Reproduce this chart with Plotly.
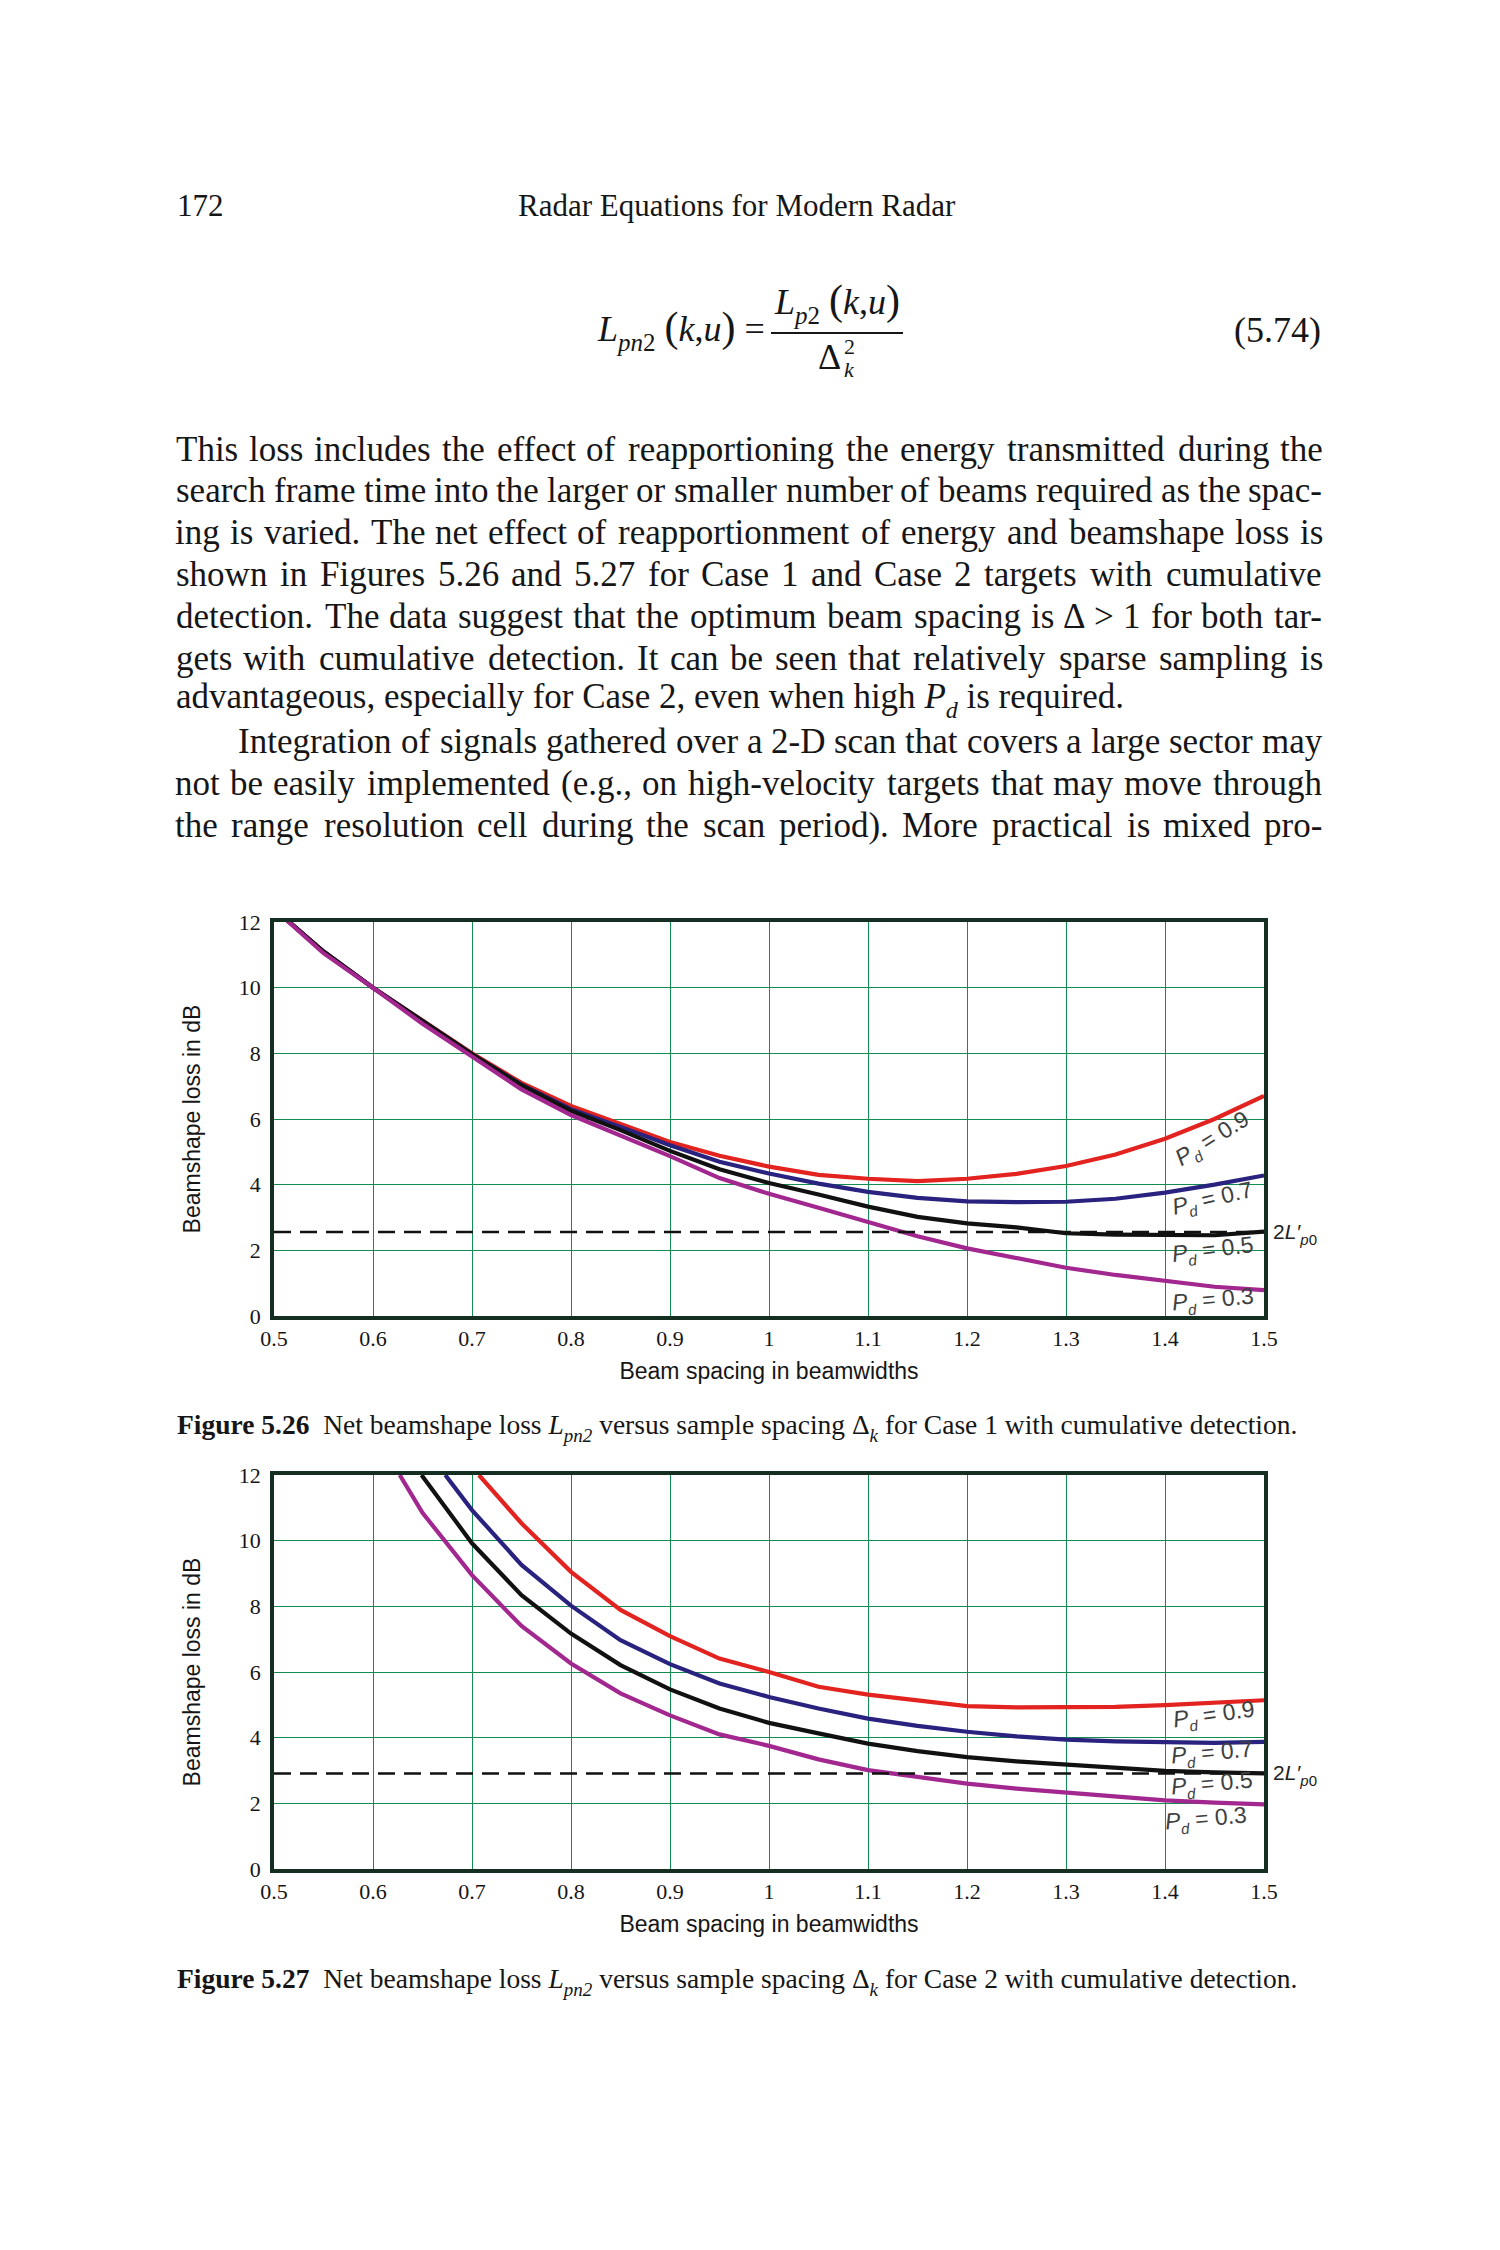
import plotly.graph_objects as go

W, H = 1500, 2250

# ---------------- data ----------------
x_case1 = [0.50, 0.55, 0.60, 0.65, 0.70, 0.75, 0.80, 0.85, 0.90, 0.95, 1.00,
           1.05, 1.10, 1.15, 1.20, 1.25, 1.30, 1.35, 1.40, 1.45, 1.50]
case1_pd09 = [12.4, 11.1, 10.0, 9.0, 8.0, 7.1, 6.4, 5.85, 5.3, 4.88, 4.55,
              4.3, 4.18, 4.11, 4.18, 4.33, 4.57, 4.92, 5.4, 6.0, 6.7]
case1_pd07 = [12.4, 11.1, 10.0, 9.0, 7.97, 7.05, 6.3, 5.76, 5.2, 4.7, 4.34,
              4.03, 3.78, 3.6, 3.49, 3.47, 3.48, 3.57, 3.76, 4.0, 4.28]
case1_pd05 = [12.4, 11.1, 10.0, 9.0, 7.97, 7.03, 6.25, 5.66, 5.03, 4.47, 4.05,
              3.7, 3.33, 3.02, 2.82, 2.7, 2.52, 2.48, 2.46, 2.46, 2.57]
case1_pd03 = [12.4, 11.05, 10.0, 8.9, 7.9, 6.9, 6.12, 5.5, 4.87, 4.2, 3.72,
              3.3, 2.87, 2.43, 2.06, 1.75, 1.47, 1.25, 1.06, 0.89, 0.79]
case1_ref = 2.56

x_case2_pd09 = [0.707, 0.75, 0.80, 0.85, 0.90, 0.95, 1.00, 1.05, 1.10, 1.15,
                1.20, 1.25, 1.30, 1.35, 1.40, 1.45, 1.50]
case2_pd09 = [12.0, 10.53, 9.05, 7.89, 7.09, 6.41, 6.0, 5.55, 5.31, 5.12,
              4.96, 4.92, 4.92, 4.94, 4.99, 5.06, 5.14]
x_case2_pd07 = [0.673, 0.70, 0.75, 0.80, 0.85, 0.90, 0.95, 1.00, 1.05, 1.10,
                1.15, 1.20, 1.25, 1.30, 1.35, 1.40, 1.45, 1.50]
case2_pd07 = [12.0, 10.93, 9.26, 8.02, 6.97, 6.24, 5.65, 5.24, 4.89, 4.58,
              4.36, 4.18, 4.04, 3.94, 3.89, 3.87, 3.84, 3.87]
x_case2_pd05 = [0.649, 0.70, 0.75, 0.80, 0.85, 0.90, 0.95, 1.00, 1.05, 1.10,
                1.15, 1.20, 1.25, 1.30, 1.35, 1.40, 1.45, 1.50]
case2_pd05 = [12.0, 9.92, 8.34, 7.17, 6.21, 5.47, 4.89, 4.45, 4.13, 3.82,
              3.59, 3.41, 3.28, 3.18, 3.08, 2.99, 2.94, 2.91]
x_case2_pd03 = [0.627, 0.65, 0.70, 0.75, 0.80, 0.85, 0.90, 0.95, 1.00, 1.05,
                1.10, 1.15, 1.20, 1.25, 1.30, 1.35, 1.40, 1.45, 1.50]
case2_pd03 = [12.0, 10.85, 8.95, 7.4, 6.26, 5.35, 4.68, 4.1, 3.75, 3.34,
              3.01, 2.8, 2.6, 2.45, 2.33, 2.22, 2.09, 2.02, 1.97]
case2_ref = 2.91

pd_values = ["0.9", "0.7", "0.5", "0.3"]
x_ticks = [0.5, 0.6, 0.7, 0.8, 0.9, 1.0, 1.1, 1.2, 1.3, 1.4, 1.5]
x_ticktext = ["0.5", "0.6", "0.7", "0.8", "0.9", "1", "1.1", "1.2", "1.3", "1.4", "1.5"]
y_ticks = [0, 2, 4, 6, 8, 10, 12]
x_title = "Beam spacing in beamwidths"
y_title = "Beamshape loss in dB"

# ---------------- styles ----------------
SERIF = "Liberation Serif, Times New Roman, serif"
SANS = "Liberation Sans, Arial, sans-serif"
COLORS = ["#e2231f", "#29237f", "#111111", "#a2278e"]
GRID = "#138c52"
FRAME = "#142f21"
TXT = "#161616"
LBL = "#404040"

def px(x):
    return x / W

def py(y):
    return 1 - y / H

def sub(s, size, shift):
    # subscript drawn as a smaller, lowered span
    return "<span style='font-size:%gpx;baseline-shift:-%gpx'>%s</span>" % (size, shift, s)

fig = go.Figure()

for ys, c, name in zip([case1_pd09, case1_pd07, case1_pd05, case1_pd03], COLORS, pd_values):
    fig.add_trace(go.Scatter(x=x_case1, y=ys, mode="lines", name="Pd = " + name,
                             line=dict(color=c, width=4.2), xaxis="x", yaxis="y",
                             showlegend=False, hoverinfo="skip"))
fig.add_trace(go.Scatter(x=[x_ticks[0], x_ticks[-1]], y=[case1_ref, case1_ref], mode="lines",
                         line=dict(color="#111111", width=2.6, dash="17px,9px"),
                         xaxis="x", yaxis="y", showlegend=False, hoverinfo="skip"))

for xs, ys, c, name in zip([x_case2_pd09, x_case2_pd07, x_case2_pd05, x_case2_pd03],
                           [case2_pd09, case2_pd07, case2_pd05, case2_pd03], COLORS, pd_values):
    fig.add_trace(go.Scatter(x=xs, y=ys, mode="lines", name="Pd = " + name,
                             line=dict(color=c, width=4.2), xaxis="x2", yaxis="y2",
                             showlegend=False, hoverinfo="skip"))
fig.add_trace(go.Scatter(x=[x_ticks[0], x_ticks[-1]], y=[case2_ref, case2_ref], mode="lines",
                         line=dict(color="#111111", width=2.6, dash="17px,9px"),
                         xaxis="x2", yaxis="y2", showlegend=False, hoverinfo="skip"))

xdom = [px(274), px(1264)]
y1dom = [py(1316), py(922)]
y2dom = [py(1869), py(1475)]

def xaxis_cfg(anchor):
    return dict(domain=xdom, anchor=anchor, range=[0.5, 1.5], tickvals=x_ticks,
                ticktext=x_ticktext, showgrid=True, gridcolor=GRID, gridwidth=1.3,
                zeroline=False, showline=True, linecolor=FRAME, linewidth=3.5, mirror=True,
                automargin=False,
                ticks="", tickfont=dict(family=SERIF, size=22, color=TXT),
                title=dict(text=x_title, font=dict(family=SANS, size=23, color=TXT), standoff=14))

def yaxis_cfg(anchor, dom):
    return dict(domain=dom, anchor=anchor, range=[0, 12], tickvals=y_ticks,
                showgrid=True, gridcolor=GRID, gridwidth=1.3, zeroline=False,
                showline=True, linecolor=FRAME, linewidth=3.5, mirror=True, ticks="",
                automargin=False, ticklabelstandoff=5,
                tickfont=dict(family=SERIF, size=22, color=TXT),
                title=dict(text=y_title, font=dict(family=SANS, size=23, color=TXT), standoff=33))

annotations = []
shapes = []

# ----- curve labels -----
PD_TXT = "<i>P</i>" + sub("<i>d</i>", 15, 6) + " = "
lab1_pos = [(1.448, 5.36, -32), (1.448, 3.52, -13), (1.448, 1.98, -7), (1.448, 0.47, -5)]
lab2_pos = [(1.449, 4.66, -8), (1.447, 3.5, -5), (1.447, 2.55, -5), (1.441, 1.5, -5)]
for (lx, ly, ang), v in zip(lab1_pos, pd_values):
    annotations.append(dict(x=lx, y=ly, xref="x", yref="y", showarrow=False, textangle=ang,
                            text=PD_TXT + v, font=dict(family=SANS, size=23, color=LBL)))
for (lx, ly, ang), v in zip(lab2_pos, pd_values):
    annotations.append(dict(x=lx, y=ly, xref="x2", yref="y2", showarrow=False, textangle=ang,
                            text=PD_TXT + v, font=dict(family=SANS, size=23, color=LBL)))
for xr, yr, ref in [("x", "y", case1_ref), ("x2", "y2", case2_ref)]:
    annotations.append(dict(x=1.5, y=ref, xref=xr, yref=yr, xanchor="left", xshift=7, yshift=-2,
                            showarrow=False, text="2<i>L′</i>" + sub("<i>p</i>0", 15, 6),
                            font=dict(family=SANS, size=21, color="#222222")))

# ----- page text -----
TW = {' ': 250, '!': 333, '(': 333, ')': 333, ',': 250, '-': 333, '.': 250, '/': 278,
      ':': 278, ';': 278, '>': 564, '=': 564, '?': 444, 'Δ': 612,
      'A': 722, 'B': 667, 'C': 667, 'D': 722, 'E': 611, 'F': 556, 'G': 722, 'H': 722,
      'I': 333, 'J': 389, 'K': 722, 'L': 611, 'M': 889, 'N': 722, 'O': 722, 'P': 556,
      'Q': 722, 'R': 667, 'S': 556, 'T': 611, 'U': 722, 'V': 722, 'W': 944, 'X': 722,
      'Y': 722, 'Z': 611,
      'a': 444, 'b': 500, 'c': 444, 'd': 500, 'e': 444, 'f': 333, 'g': 500, 'h': 500,
      'i': 278, 'j': 278, 'k': 500, 'l': 278, 'm': 778, 'n': 500, 'o': 500, 'p': 500,
      'q': 500, 'r': 333, 's': 389, 't': 278, 'u': 500, 'v': 500, 'w': 722, 'x': 500,
      'y': 500, 'z': 444}

def tw(s, size):
    return sum(TW.get(c, 500) for c in s) * size / 1000.0 * 1.02

BODY = 35
LEFT, RIGHT = 175, 1323
Y0, DY = 449, 41.8
body_lines = [
    ("This loss includes the effect of reapportioning the energy transmitted during the", LEFT, True),
    ("search frame time into the larger or smaller number of beams required as the spac-", LEFT, True),
    ("ing is varied. The net effect of reapportionment of energy and beamshape loss is", LEFT, True),
    ("shown in Figures 5.26 and 5.27 for Case 1 and Case 2 targets with cumulative", LEFT, True),
    ("detection. The data suggest that the optimum beam spacing is Δ > 1 for both tar-", LEFT, True),
    ("gets with cumulative detection. It can be seen that relatively sparse sampling is", LEFT, True),
    ("advantageous, especially for Case 2, even when high <i>P</i>" + sub("<i>d</i>", 24, 10)
     + " is required.", LEFT, False),
    ("Integration of signals gathered over a 2-D scan that covers a large sector may", LEFT + 62, True),
    ("not be easily implemented (e.g., on high-velocity targets that may move through", LEFT, True),
    ("the range resolution cell during the scan period). More practical is mixed pro-", LEFT, True),
]

for k, (text, x0, just) in enumerate(body_lines):
    yy = Y0 + k * DY
    if not just:
        annotations.append(dict(x=px(x0), y=py(yy), xref="paper", yref="paper", xanchor="left",
                                yanchor="middle", showarrow=False, text=text, borderpad=0,
                                font=dict(family=SERIF, size=BODY, color=TXT)))
        continue
    words = text.split(" ")
    widths = [tw(w, BODY) for w in words]
    gap = (RIGHT - x0 - sum(widths)) / (len(words) - 1)
    cur = x0
    for wd, wdw in zip(words, widths):
        annotations.append(dict(x=px(cur + wdw / 2), y=py(yy), xref="paper", yref="paper",
                                xanchor="center", yanchor="middle", showarrow=False,
                                text=wd, borderpad=0,
                                font=dict(family=SERIF, size=BODY, color=TXT)))
        cur += wdw + gap

# header
annotations.append(dict(x=px(LEFT), y=py(205), xref="paper", yref="paper", xanchor="left",
                        yanchor="middle", showarrow=False, text="172",
                        font=dict(family=SERIF, size=31, color=TXT)))
annotations.append(dict(x=px(737), y=py(205), xref="paper", yref="paper", xanchor="center",
                        yanchor="middle", showarrow=False, text="Radar Equations for Modern Radar",
                        font=dict(family=SERIF, size=31, color=TXT)))

# equation (5.74)
EQ = 36
PAR = "<span style='font-size:42px'>{}</span>"
annotations.append(dict(x=px(595), y=py(330), xref="paper", yref="paper", xanchor="left",
                        yanchor="middle", showarrow=False,
                        text="<i>L</i>" + sub("<i>pn</i>2", 25, 10) + " " + PAR.format("(")
                             + "<i>k</i>,<i>u</i>" + PAR.format(")") + " =",
                        font=dict(family=SERIF, size=EQ, color=TXT)))
annotations.append(dict(x=px(837), y=py(303), xref="paper", yref="paper", xanchor="center",
                        yanchor="middle", showarrow=False,
                        text="<i>L</i>" + sub("<i>p</i>2", 25, 10) + " " + PAR.format("(")
                             + "<i>k</i>,<i>u</i>" + PAR.format(")"),
                        font=dict(family=SERIF, size=EQ, color=TXT)))
shapes.append(dict(type="line", xref="paper", yref="paper", x0=px(771), x1=px(903),
                   y0=py(333), y1=py(333), line=dict(color=TXT, width=2)))
annotations.append(dict(x=px(829), y=py(357), xref="paper", yref="paper", xanchor="center",
                        yanchor="middle", showarrow=False, text="Δ",
                        font=dict(family=SERIF, size=EQ, color=TXT)))
annotations.append(dict(x=px(842), y=py(346), xref="paper", yref="paper", xanchor="left",
                        yanchor="middle", showarrow=False, text="2",
                        font=dict(family=SERIF, size=22, color=TXT)))
annotations.append(dict(x=px(842), y=py(370), xref="paper", yref="paper", xanchor="left",
                        yanchor="middle", showarrow=False, text="<i>k</i>",
                        font=dict(family=SERIF, size=22, color=TXT)))
annotations.append(dict(x=px(RIGHT), y=py(330), xref="paper", yref="paper", xanchor="right",
                        yanchor="middle", showarrow=False, text="(5.74)",
                        font=dict(family=SERIF, size=EQ, color=TXT)))

# captions
CAP = 27.5
cap_tail = (" Net beamshape loss <i>L</i>" + sub("<i>pn2</i>", 19, 8)
            + " versus sample spacing Δ" + sub("<i>k</i>", 19, 8) + " for Case {} with cumulative detection.")
captions = [
    ("<b>Figure 5.26</b>\u00a0" + cap_tail.format(1), 1427),
    ("<b>Figure 5.27</b>\u00a0" + cap_tail.format(2), 1981),
]
for t, yy in captions:
    annotations.append(dict(x=px(LEFT), y=py(yy), xref="paper", yref="paper", xanchor="left",
                            yanchor="middle", showarrow=False, text=t,
                            font=dict(family=SERIF, size=CAP, color=TXT)))

fig.update_layout(
    width=W, height=H, autosize=False,
    margin=dict(l=0, r=0, t=0, b=0, pad=0, autoexpand=False),
    paper_bgcolor="white", plot_bgcolor="white",
    font=dict(family=SERIF, color=TXT),
    showlegend=False,
    xaxis=xaxis_cfg("y"), yaxis=yaxis_cfg("x", y1dom),
    xaxis2=xaxis_cfg("y2"), yaxis2=yaxis_cfg("x2", y2dom),
    annotations=annotations, shapes=shapes,
)

fig.write_html("out.html", config={"displayModeBar": False},
               post_script="document.body.style.margin='0px';document.body.style.overflow='hidden';")
